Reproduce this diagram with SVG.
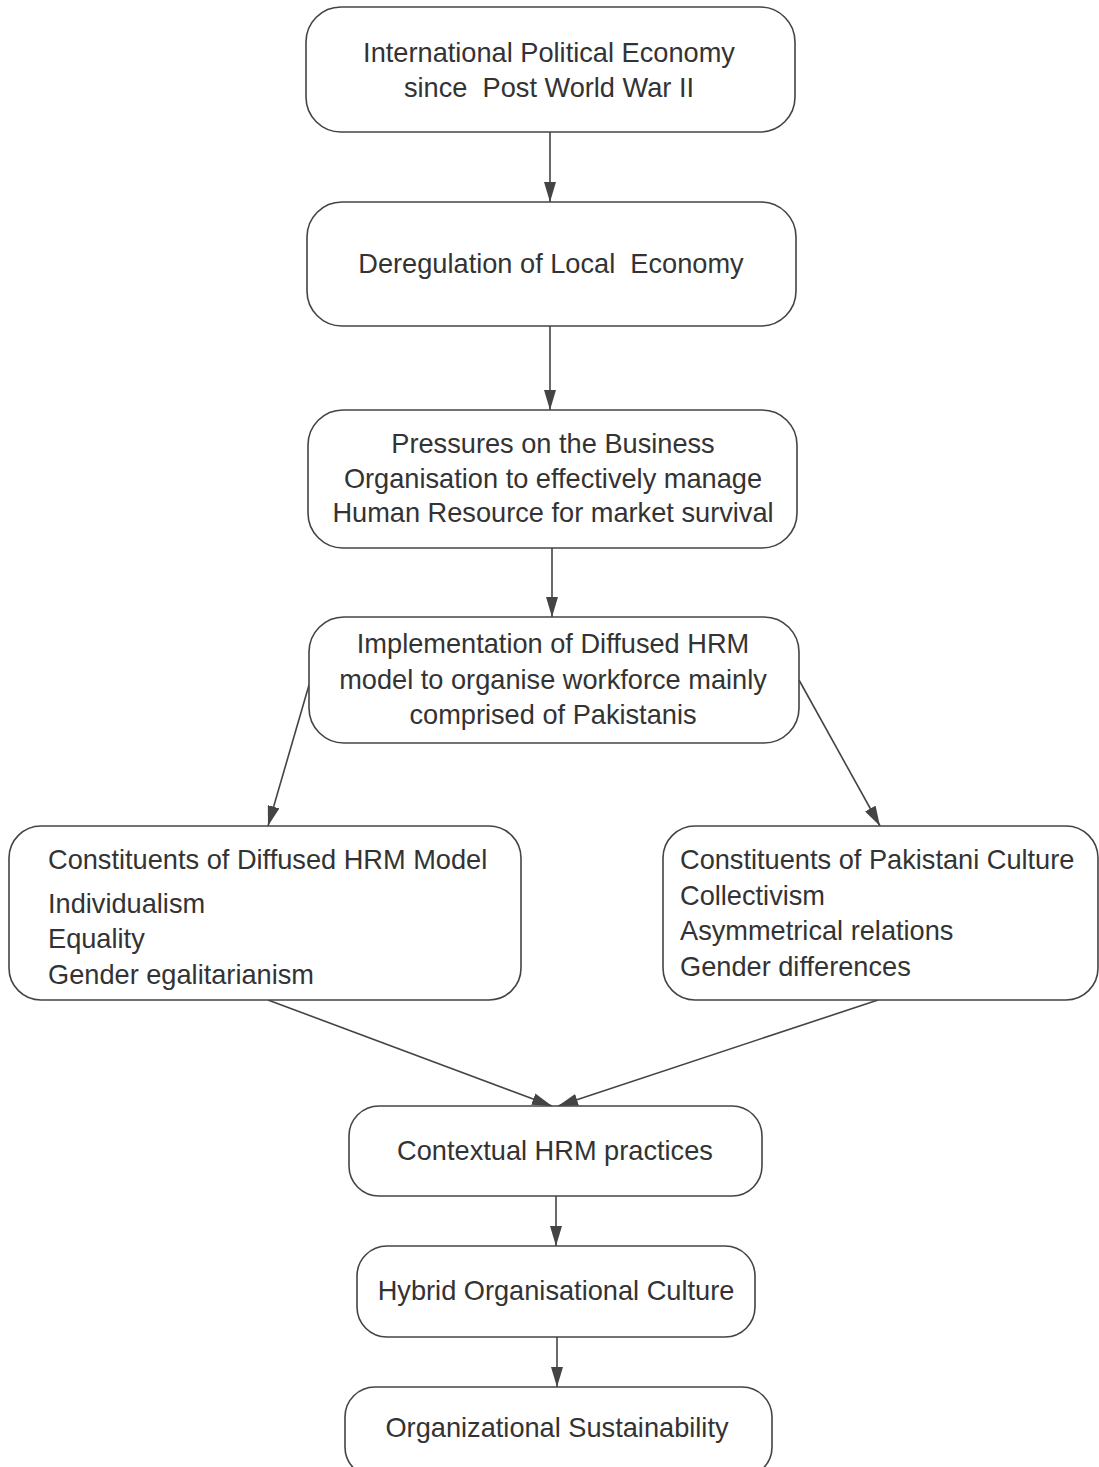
<svg xmlns="http://www.w3.org/2000/svg" width="1099" height="1467" viewBox="0 0 1099 1467">
<style>
.box{fill:#fff;stroke:#444;stroke-width:1.6}
.t{font-family:"Liberation Sans",Arial,sans-serif;font-size:27.2px;fill:#333;white-space:pre}
.c{text-anchor:middle}
.ln{stroke:#444;stroke-width:1.6;fill:none;marker-end:url(#ah)}
</style>
<defs>
<marker id="ah" markerWidth="20" markerHeight="12" refX="20" refY="6" orient="auto" markerUnits="userSpaceOnUse" viewBox="0 0 20 12">
<path d="M0,0 L20,6 L0,12 z" fill="#444"/>
</marker>
</defs>
<rect width="1099" height="1467" fill="#fff"/>
<g id="connectors">
<line class="ln" x1="550" y1="132" x2="550" y2="202"/>
<line class="ln" x1="550" y1="326" x2="550" y2="410"/>
<line class="ln" x1="552" y1="548" x2="552" y2="617"/>
<line class="ln" x1="309" y1="685" x2="268" y2="826"/>
<line class="ln" x1="799" y1="680" x2="880" y2="826"/>
<line class="ln" x1="268" y1="1000" x2="552" y2="1106"/>
<line class="ln" x1="878" y1="1000" x2="558" y2="1106"/>
<line class="ln" x1="556" y1="1196" x2="556" y2="1246"/>
<line class="ln" x1="557" y1="1337" x2="557" y2="1387"/>
</g>
<g id="n1">
<rect class="box" x="306" y="7" width="489" height="125" rx="35"/>
<text class="t c" x="549" y="62">International Political Economy</text>
<text class="t c" x="549" y="97" xml:space="preserve">since  Post World War II</text>
</g>
<g id="n2">
<rect class="box" x="307" y="202" width="489" height="124" rx="35"/>
<text class="t c" x="551" y="273" xml:space="preserve">Deregulation of Local  Economy</text>
</g>
<g id="n3">
<rect class="box" x="308" y="410" width="489" height="138" rx="35"/>
<text class="t c" x="553" y="453">Pressures on the Business</text>
<text class="t c" x="553" y="488">Organisation to effectively manage</text>
<text class="t c" x="553" y="522">Human Resource for market survival</text>
</g>
<g id="n4">
<rect class="box" x="309" y="617" width="490" height="126" rx="35"/>
<text class="t c" x="553" y="653">Implementation of Diffused HRM</text>
<text class="t c" x="553" y="689">model to organise workforce mainly</text>
<text class="t c" x="553" y="724">comprised of Pakistanis</text>
</g>
<g id="n5">
<rect class="box" x="9" y="826" width="512" height="174" rx="32"/>
<text class="t" x="48" y="869">Constituents of Diffused HRM Model</text>
<text class="t" x="48" y="913">Individualism</text>
<text class="t" x="48" y="948">Equality</text>
<text class="t" x="48" y="984">Gender egalitarianism</text>
</g>
<g id="n6">
<rect class="box" x="663" y="826" width="435" height="174" rx="32"/>
<text class="t" x="680" y="869">Constituents of Pakistani Culture</text>
<text class="t" x="680" y="905">Collectivism</text>
<text class="t" x="680" y="940">Asymmetrical relations</text>
<text class="t" x="680" y="976">Gender differences</text>
</g>
<g id="n7">
<rect class="box" x="349" y="1106" width="413" height="90" rx="30"/>
<text class="t c" x="555" y="1160">Contextual HRM practices</text>
</g>
<g id="n8">
<rect class="box" x="357" y="1246" width="398" height="91" rx="30"/>
<text class="t c" x="556" y="1300">Hybrid Organisational Culture</text>
</g>
<g id="n9">
<rect class="box" x="345" y="1387" width="427" height="90" rx="30"/>
<text class="t c" x="557" y="1437">Organizational Sustainability</text>
</g>
</svg>
